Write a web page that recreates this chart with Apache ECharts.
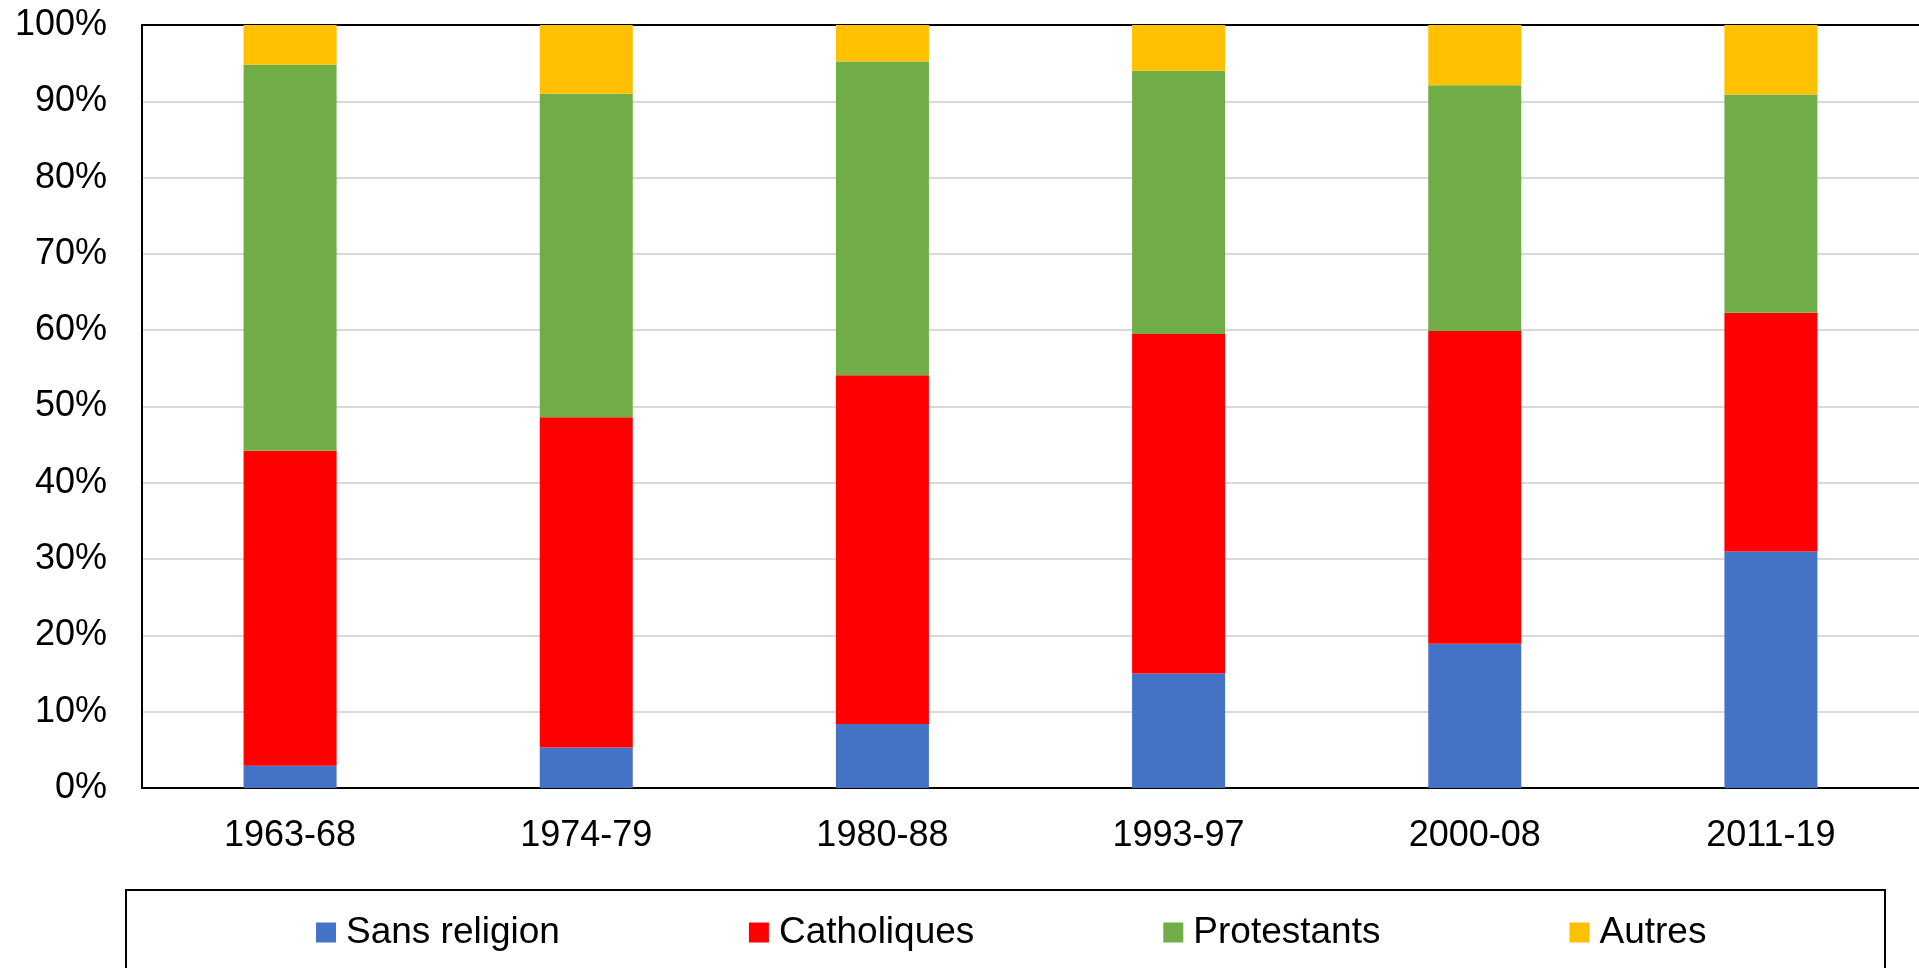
<!DOCTYPE html>
<html>
<head>
<meta charset="utf-8">
<title>Religion</title>
<script src="https://cdn.jsdelivr.net/npm/echarts@6/dist/echarts.min.js"></script>
<style>
  html, body { margin: 0; padding: 0; background: #fff; }
  #chart { width: 1919px; height: 968px; }
</style>
</head>
<body>
<div id="chart"></div>
<script>
// periods on the x axis
const periods = ['1963-68', '1974-79', '1980-88', '1993-97', '2000-08', '2011-19'];

// shares in percent
const sansReligion = [2.9, 5.3, 8.4, 15.0, 18.9, 31.0];
const catholiques = [41.3, 43.3, 45.7, 44.5, 41.0, 31.3];
const protestants = [50.6, 42.4, 41.1, 34.5, 32.2, 28.6];
const autres = [5.2, 9.0, 4.8, 6.0, 7.9, 9.1];

const font = '"Liberation Sans", Arial, sans-serif';

const chart = echarts.init(document.getElementById('chart'), null, { renderer: 'canvas' });

function bar(name, data, color) {
  return {
    name: name,
    type: 'bar',
    stack: 'total',
    barWidth: 93,
    itemStyle: { color: color },
    data: data
  };
}

chart.setOption({
  animation: false,
  textStyle: { fontFamily: font },
  grid: {
    left: 142,
    right: 0,
    top: 25,
    bottom: 180
  },
  xAxis: [{
    type: 'category',
    data: periods,
    axisTick: { show: false },
    axisLine: { lineStyle: { color: '#000', width: 2 } },
    axisLabel: { color: '#000', fontSize: 36, margin: 30, fontFamily: font }
  }, {
    // top border of the plot area
    type: 'category',
    position: 'top',
    data: periods,
    axisTick: { show: false },
    axisLabel: { show: false },
    axisLine: { lineStyle: { color: '#000', width: 2 } }
  }],
  yAxis: {
    type: 'value',
    min: 0,
    max: 100,
    interval: 10,
    axisLine: { show: true, lineStyle: { color: '#000', width: 2 } },
    axisTick: { show: false },
    splitLine: { lineStyle: { color: '#d9d9d9', width: 2 } },
    axisLabel: { color: '#000', fontSize: 36, margin: 35, fontFamily: font, formatter: '{value}%' }
  },
  legend: {
    left: 316,
    top: 914,
    padding: 0,
    itemWidth: 20,
    itemHeight: 20,
    itemGap: 189,
    icon: 'rect',
    textStyle: { color: '#000', fontSize: 37, fontFamily: font, padding: [0, 0, 0, 5] },
    data: ['Sans religion', 'Catholiques', 'Protestants', 'Autres']
  },
  graphic: [{
    type: 'rect',
    silent: true,
    shape: { x: 126, y: 890, width: 1759, height: 120 },
    style: { fill: 'none', stroke: '#000', lineWidth: 2 }
  }],
  series: [
    bar('Sans religion', sansReligion, '#4472C4'),
    bar('Catholiques', catholiques, '#FF0000'),
    bar('Protestants', protestants, '#70AD47'),
    bar('Autres', autres, '#FFC000')
  ]
});
</script>
</body>
</html>
